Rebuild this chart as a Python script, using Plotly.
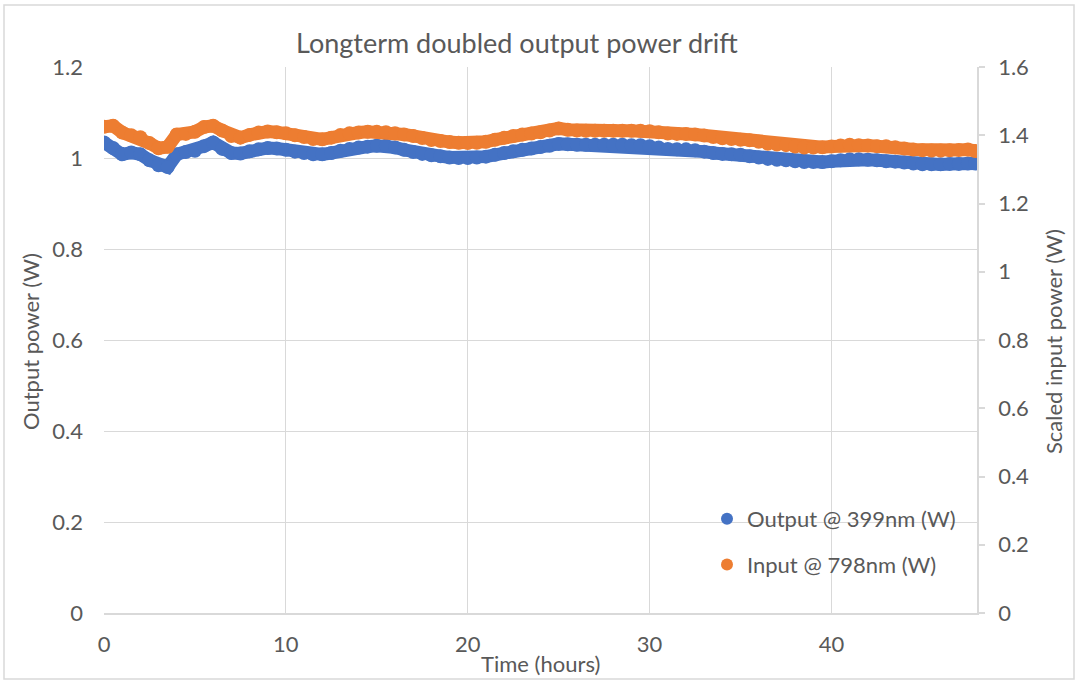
import plotly.graph_objects as go

# ---------------- data ----------------
time_hours = [
    0, 0.5, 1, 1.5, 2, 2.5, 3, 3.5, 4, 4.5,
    5, 5.5, 6, 6.5, 7, 7.5, 8, 8.5, 9, 9.5,
    10, 10.5, 11, 11.5, 12, 12.5, 13, 13.5, 14, 14.5,
    15, 15.5, 16, 16.5, 17, 17.5, 18, 18.5, 19, 19.5,
    20, 20.5, 21, 21.5, 22, 22.5, 23, 23.5, 24, 24.5,
    25, 25.5, 26, 26.5, 27, 27.5, 28, 28.5, 29, 29.5,
    30, 30.5, 31, 31.5, 32, 32.5, 33, 33.5, 34, 34.5,
    35, 35.5, 36, 36.5, 37, 37.5, 38, 38.5, 39, 39.5,
    40, 40.5, 41, 41.5, 42, 42.5, 43, 43.5, 44, 44.5,
    45, 45.5, 46, 46.5, 47, 47.5, 47.9,
]

output_399nm = [
    1.034, 1.022, 1.008, 1.012, 1.008, 0.995, 0.984, 0.980, 1.008, 1.013,
    1.016, 1.026, 1.034, 1.020, 1.011, 1.010, 1.015, 1.019, 1.022, 1.021,
    1.018, 1.014, 1.011, 1.008, 1.008, 1.011, 1.016, 1.020, 1.023, 1.025,
    1.027, 1.027, 1.023, 1.018, 1.013, 1.009, 1.006, 1.004, 1.001, 1.000,
    1.000, 1.001, 1.003, 1.007, 1.011, 1.015, 1.018, 1.021, 1.024, 1.027,
    1.031, 1.030, 1.029, 1.029, 1.029, 1.029, 1.029, 1.029, 1.028, 1.028,
    1.026, 1.023, 1.020, 1.019, 1.019, 1.017, 1.014, 1.011, 1.009, 1.008,
    1.007, 1.004, 1.001, 0.998, 0.996, 0.995, 0.993, 0.991, 0.991, 0.991,
    0.993, 0.995, 0.997, 0.997, 0.996, 0.995, 0.993, 0.992, 0.990, 0.988,
    0.986, 0.986, 0.986, 0.987, 0.987, 0.988, 0.988,
]

input_798nm = [
    1.425, 1.428, 1.408, 1.400, 1.394, 1.377, 1.362, 1.366, 1.402, 1.404,
    1.410, 1.424, 1.428, 1.414, 1.398, 1.393, 1.401, 1.408, 1.411, 1.409,
    1.406, 1.400, 1.395, 1.389, 1.388, 1.393, 1.401, 1.406, 1.408, 1.410,
    1.410, 1.409, 1.406, 1.402, 1.398, 1.392, 1.386, 1.383, 1.380, 1.378,
    1.377, 1.378, 1.381, 1.387, 1.393, 1.398, 1.402, 1.405, 1.409, 1.414,
    1.420, 1.416, 1.414, 1.413, 1.413, 1.413, 1.413, 1.413, 1.413, 1.413,
    1.412, 1.409, 1.405, 1.404, 1.404, 1.402, 1.399, 1.395, 1.391, 1.389,
    1.387, 1.385, 1.381, 1.375, 1.373, 1.371, 1.367, 1.364, 1.364, 1.365,
    1.367, 1.370, 1.372, 1.371, 1.370, 1.368, 1.368, 1.365, 1.361, 1.358,
    1.356, 1.355, 1.355, 1.356, 1.357, 1.358, 1.354,
]

x_ticks = [0, 10, 20, 30, 40]
y_left_ticks = [0, 0.2, 0.4, 0.6, 0.8, 1, 1.2]
y_right_ticks = [0, 0.2, 0.4, 0.6, 0.8, 1, 1.2, 1.4, 1.6]

series_names = ["Output @ 399nm (W)", "Input @ 798nm (W)"]
series_colors = ["#4472C4", "#ED7D31"]

# ---------------- layout geometry ----------------
W, H = 1078, 683
L, R, T, B = 104, 977, 67, 613
PW, PH = R - L, B - T


def px(x):
    return (x - L) / PW


def py(y):
    return (B - y) / PH


FONT = "Lato, Carlito, Calibri, 'Open Sans', sans-serif"
TXT = "#595959"
GRID = "#d9d9d9"

fig = go.Figure()
series = [(output_399nm, "y"), (input_798nm, "y2")]
for (vals, ax), name, col, grp in zip(series, series_names, series_colors, ["a", "b"]):
    # dense marker band: a thick line under the markers fills the gaps between samples
    fig.add_trace(go.Scatter(
        x=time_hours, y=vals, mode="lines", showlegend=False, hoverinfo="skip",
        line=dict(color=col, width=13, shape="linear"), yaxis=ax, legendgroup=grp,
    ))
    fig.add_trace(go.Scatter(
        x=time_hours, y=vals, mode="markers", name=name,
        marker=dict(color=col, size=14, line=dict(width=0)),
        legendgroup=grp, yaxis=ax,
    ))

fig.update_layout(
    width=W, height=H,
    margin=dict(l=L, r=W - R, t=T, b=H - B, pad=0),
    paper_bgcolor="white", plot_bgcolor="white",
    font=dict(family=FONT, color=TXT, size=22),
    showlegend=True,
    legend=dict(
        x=px(707), y=py(498), xanchor="left", yanchor="top",
        bgcolor="rgba(0,0,0,0)", font=dict(size=22, color=TXT, family=FONT),
        tracegroupgap=14, itemsizing="constant",
    ),
    xaxis=dict(
        range=[0, 48], tickvals=x_ticks, showgrid=True, gridcolor=GRID, gridwidth=1,
        zeroline=False, showline=True, linecolor=GRID, linewidth=1.5,
        ticks="", tickfont=dict(size=22, color=TXT), ticklabelstandoff=11,
    ),
    yaxis=dict(
        range=[0, 1.2], tickvals=y_left_ticks, showgrid=True, gridcolor=GRID, gridwidth=1,
        zeroline=False, showline=False, ticks="",
        tickfont=dict(size=22, color=TXT), ticklabelstandoff=20,
    ),
    yaxis2=dict(
        range=[0, 1.6], tickvals=y_right_ticks, overlaying="y", side="right",
        showgrid=False, zeroline=False, showline=True, linecolor=GRID, linewidth=1.5,
        ticks="outside", ticklen=6, tickcolor=GRID, tickwidth=1.5,
        tickfont=dict(size=22, color=TXT), ticklabelstandoff=9,
    ),
    annotations=[
        dict(text="Longterm doubled output power drift", x=px(517), y=py(43),
             xref="paper", yref="paper", showarrow=False, xanchor="center", yanchor="middle",
             font=dict(size=27, color=TXT, family=FONT)),
        dict(text="Output power (W)", x=px(30), y=py(342), textangle=-90,
             xref="paper", yref="paper", showarrow=False, xanchor="center", yanchor="middle",
             font=dict(size=22, color=TXT, family=FONT)),
        dict(text="Scaled input power (W)", x=px(1053), y=py(342), textangle=-90,
             xref="paper", yref="paper", showarrow=False, xanchor="center", yanchor="middle",
             font=dict(size=22, color=TXT, family=FONT)),
        dict(text="Time (hours)", x=px(540), y=py(663),
             xref="paper", yref="paper", showarrow=False, xanchor="center", yanchor="middle",
             font=dict(size=22, color=TXT, family=FONT)),
    ],
    shapes=[
        dict(type="rect", xref="paper", yref="paper",
             x0=px(4), x1=px(1074), y0=py(679), y1=py(5),
             line=dict(color="#d9d9d9", width=1.5), fillcolor="rgba(0,0,0,0)", layer="below"),
    ],
)

fig.write_html("out.html", config={"displayModeBar": False},
               post_script="document.body.style.margin='0';")
